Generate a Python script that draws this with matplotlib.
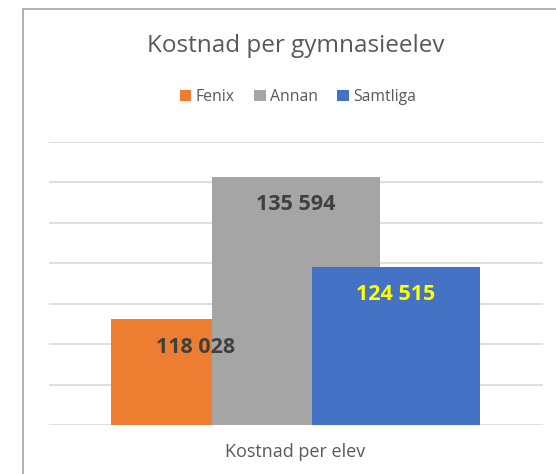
import matplotlib
matplotlib.use("Agg")
import matplotlib.pyplot as plt
from matplotlib.patches import Rectangle, Patch

# data
series = ["Fenix", "Annan", "Samtliga"]
values = [118028, 135594, 124515]
colors = ["#ED7D31", "#A5A5A5", "#4472C4"]
label_colors = ["#404040", "#404040", "#FFFF00"]
category = "Kostnad per elev"
title = "Kostnad per gymnasieelev"

plt.rcParams['font.family'] = ['Open Sans', 'DejaVu Sans']

W, H = 556, 474
fig = plt.figure(figsize=(W / 100, H / 100), dpi=100)

# chart border (cropped on right and bottom)
fig.add_artist(Rectangle((22.5 / W, -0.1), 1.2, 1 - 9.5 / H + 0.1,
                         transform=fig.transFigure, fill=False,
                         edgecolor="#ABABAB", linewidth=1.3))

ax = fig.add_axes([49 / W, 1 - 425 / H, 493.5 / W, (425 - 141.5) / H])

spacing = 1.0
width = 1.675
offsets = [(i - 1) * spacing for i in range(len(values))]
for i, (x, v) in enumerate(zip(offsets, values)):
    ax.bar(x, v, width=width, color=colors[i], zorder=2 + i, bottom=0)
    ax.annotate(f"{v:,}".replace(",", " "), (x, v), xytext=(0, -20),
                textcoords="offset points", ha="center", va="center",
                fontsize=15.5, fontweight="bold", color=label_colors[i],
                zorder=10)

ax.set_xlim(-2.46, 2.46)
ax.set_ylim(105000, 140000)
ax.set_yticks(range(105000, 140001, 5000))
ax.grid(axis="y", color="#D9D9D9", linewidth=1.2, zorder=0)
ax.set_axisbelow(True)
ax.tick_params(left=False, bottom=False, labelleft=False, labelbottom=False)
for s in ax.spines.values():
    s.set_visible(False)

fig.text(295 / W, 1 - 452 / H, category, ha="center", va="center",
         fontsize=13, color="#595959")
fig.text(295.5 / W, 1 - 46 / H, title, ha="center", va="center",
         fontsize=17.5, color="#595959")

handles = [Patch(facecolor=c, edgecolor="none") for c in colors]
fig.legend(handles, series, loc="center", bbox_to_anchor=(298 / W, 1 - 97 / H),
           ncol=3, frameon=False, fontsize=11.3, labelcolor="#595959",
           handlelength=0.75, handleheight=0.75, handletextpad=0.3,
           columnspacing=1.2)

fig.savefig("out.png", dpi=100)
